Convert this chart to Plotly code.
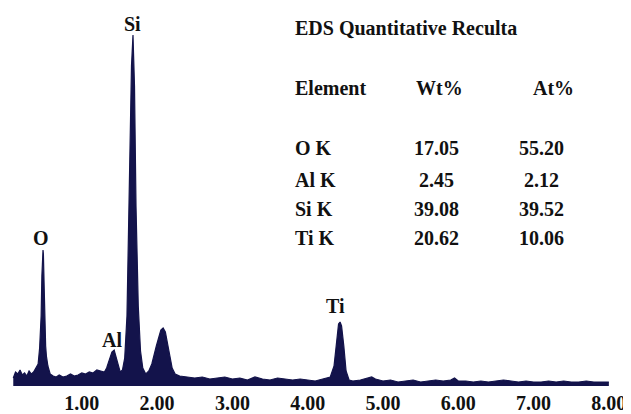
import plotly.graph_objects as go

# ---- spectrum data ----
energy_kev = [0.09, 0.12, 0.15, 0.18, 0.21, 0.24, 0.27, 0.30, 0.33, 0.36, 0.39, 0.42, 0.44, 0.46, 0.47,
              0.48, 0.485, 0.49, 0.50, 0.51, 0.52, 0.53, 0.55, 0.58, 0.62, 0.66, 0.70, 0.75, 0.80, 0.85,
              0.90, 0.95, 1.00, 1.05, 1.10, 1.15, 1.20, 1.25, 1.30, 1.33, 1.37, 1.40, 1.43, 1.45, 1.48,
              1.51, 1.54, 1.57, 1.60, 1.63, 1.66, 1.68, 1.70, 1.72, 1.75, 1.78, 1.81, 1.85, 1.89, 1.93,
              1.96, 1.99, 2.02, 2.05, 2.08, 2.11, 2.14, 2.17, 2.20, 2.24, 2.30, 2.40, 2.50, 2.60, 2.70,
              2.80, 2.90, 3.00, 3.10, 3.20, 3.30, 3.40, 3.50, 3.60, 3.70, 3.80, 3.90, 4.00, 4.10, 4.20,
              4.30, 4.35, 4.38, 4.41, 4.43, 4.45, 4.48, 4.51, 4.55, 4.60, 4.70, 4.80, 4.85, 4.90, 5.00,
              5.10, 5.20, 5.30, 5.40, 5.50, 5.60, 5.70, 5.80, 5.90, 5.95, 6.00, 6.10, 6.20, 6.30, 6.40,
              6.50, 6.60, 6.70, 6.80, 6.90, 7.00, 7.10, 7.20, 7.30, 7.40, 7.50, 7.60, 7.70, 7.80, 7.90,
              8.00]
counts = [8, 14, 12, 16, 11, 13, 10, 15, 12, 14, 18, 22, 38, 70, 110,
          130, 136, 132, 100, 60, 40, 30, 20, 12, 10, 9, 11, 9, 10, 12,
          10, 11, 13, 12, 14, 13, 16, 15, 14, 18, 26, 34, 36, 30, 20,
          14, 16, 28, 70, 180, 320, 351, 300, 180, 80, 35, 18, 12, 15, 22,
          32, 40, 48, 56, 58, 54, 42, 28, 18, 12, 10, 9, 8, 9, 7,
          8, 9, 7, 8, 6, 9, 7, 6, 8, 7, 6, 7, 6, 5, 7,
          9, 20, 45, 62, 64, 60, 40, 15, 6, 5, 6, 8, 9, 7, 5,
          6, 4, 5, 6, 4, 5, 6, 5, 6, 8, 5, 5, 4, 5, 4,
          5, 6, 5, 4, 5, 4, 4, 5, 4, 5, 4, 4, 5, 4, 4,
          4]

# ---- axis ticks ----
tick_values = [1, 2, 3, 4, 5, 6, 7, 8]
tick_labels = ["1.00", "2.00", "3.00", "4.00", "5.00", "6.00", "7.00", "8.00"]

# ---- peak labels ----
peak_names = ["O", "Al", "Si", "Ti"]
peak_label_x = [0.46, 1.40, 1.68, 4.37]
peak_label_y = [148, 46, 362, 80]

# ---- quantitative table ----
table_title = "EDS Quantitative Reculta"
table_headers = ["Element", "Wt%", "At%"]
table_elements = ["O K", "Al K", "Si K", "Ti K"]
table_wt = ["17.05", "2.45", "39.08", "20.62"]
table_at = ["55.20", "2.12", "39.52", "10.06"]

NAVY = "#13134b"
FONT = "Liberation Serif"
INK = "#111111"

fig = go.Figure()
fig.add_trace(go.Scatter(
    x=energy_kev, y=counts, mode="lines", fill="tozeroy",
    line=dict(color=NAVY, width=1.2), fillcolor=NAVY, hoverinfo="skip",
))

annotations = []
for name, px_, py_ in zip(peak_names, peak_label_x, peak_label_y):
    annotations.append(dict(x=px_, y=py_, xref="x", yref="y", text=name, showarrow=False,
                            yanchor="middle",
                            font=dict(family=FONT, size=20, color=INK, weight="bold")))

tfont = dict(family=FONT, size=20, color=INK, weight="bold")
annotations.append(dict(x=0.4575, y=0.947, xref="paper", yref="paper", text=table_title,
                        showarrow=False, xanchor="left", yanchor="middle", font=tfont))
header_x = [0.4575, 0.6934, 0.8748]
header_anchor = ["left", "center", "center"]
for h, hx, ha in zip(table_headers, header_x, header_anchor):
    annotations.append(dict(x=hx, y=0.788, xref="paper", yref="paper", text=h, showarrow=False,
                            xanchor=ha, yanchor="middle", font=tfont))
row_y = [0.6296, 0.545, 0.4683, 0.3915]
for el, wt, at, ry in zip(table_elements, table_wt, table_at, row_y):
    annotations.append(dict(x=0.4575, y=ry, xref="paper", yref="paper", text=el, showarrow=False,
                            xanchor="left", yanchor="middle", font=tfont))
    annotations.append(dict(x=0.687, y=ry, xref="paper", yref="paper", text=wt, showarrow=False,
                            xanchor="center", yanchor="middle", font=tfont))
    annotations.append(dict(x=0.857, y=ry, xref="paper", yref="paper", text=at, showarrow=False,
                            xanchor="center", yanchor="middle", font=tfont))

# the page body adds an 8px margin, so the figure is 8px smaller in each direction
fig.update_layout(
    width=623, height=406,
    margin=dict(l=0, r=0, t=0, b=28),
    paper_bgcolor="white", plot_bgcolor="white",
    showlegend=False,
    annotations=annotations,
    xaxis=dict(range=[0.02, 8.294], tickvals=tick_values, ticktext=tick_labels,
               showgrid=False, zeroline=False, showline=False, ticks="",
               ticklabelstandoff=3,
               tickfont=dict(family=FONT, size=20, color=INK, weight="bold")),
    yaxis=dict(range=[0, 378], visible=False, showgrid=False, zeroline=False),
)

fig.write_html("out.html")
